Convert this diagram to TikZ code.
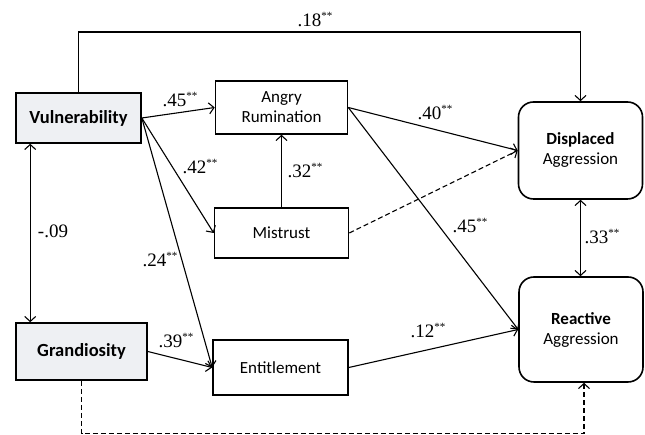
\documentclass[tikz,border=0pt]{standalone}
\usepackage{fontspec}
\setmainfont{Liberation Serif}
\newfontfamily\boxfont{Carlito}
\usepackage{tikz}
\usetikzlibrary{arrows.meta}
\definecolor{predfill}{RGB}{238,240,243}

\tikzset{
  barb/.tip={Straight Barb[length=5pt,width=11pt]},
  var/.style={draw,line width=1.6pt,font=\boxfont\fontsize{17}{20}\selectfont,align=center,inner sep=2pt},
  pred/.style={var,fill=predfill,font=\boxfont\bfseries\fontsize{18.5}{20}\selectfont},
  outc/.style={var,rounded corners=15pt,minimum width=124pt},
  coef/.style={font=\fontsize{19}{20}\selectfont,inner sep=0pt},
  path/.style={line width=1.1pt,-barb},
  dpath/.style={line width=1.1pt,barb-barb},
  ns/.style={dash pattern=on 5pt off 3pt},
}
\newcommand{\sig}{\raisebox{7pt}{\fontsize{11}{11}\selectfont**}}

\begin{document}
\begin{tikzpicture}[x=1pt,y=1pt]
  \useasboundingbox (0,0) rectangle (645,435);
  % predictors
  \node[pred,minimum width=125pt,minimum height=50pt] (vul) at (78.5,317) {Vulnerability};
  \node[pred,minimum width=131pt,minimum height=57pt] (gra) at (81.5,83.5) {Grandiosity};
  % mediators
  \node[var,minimum width=132pt,minimum height=53pt] (ang) at (281.5,327.5) {Angry\\Rumination};
  \node[var,minimum width=134pt,minimum height=50pt] (mis) at (281.5,202) {Mistrust};
  \node[var,minimum width=135pt,minimum height=55pt] (ent) at (280.5,67.5) {Entitlement};
  % outcomes
  \node[outc,minimum height=97pt] (dis) at (580.5,284.5) {\textbf{Displaced}\\Aggression};
  \node[outc,minimum height=105pt] (rea) at (581,105.5) {\textbf{Reactive}\\Aggression};

  \coordinate (top) at (0,403);
  \coordinate (bot) at (0,1.5);

  % paths
  \draw[path] (vul.north) -- (vul.north |- top) -| (dis.north);
  \draw[path] (vul.east) -- (ang.west);
  \draw[path] (vul.east) -- (mis.west);
  \draw[path] (vul.east) -- (ent.west);
  \draw[path] (mis.north) -- (ang.south);
  \draw[path] (gra.east) -- (ent.west);
  \draw[path] (ang.east) -- (dis.west);
  \draw[path,ns] (mis.east) -- (dis.west);
  \draw[path] (ang.east) -- (rea.west);
  \draw[path] (ent.east) -- (rea.west);
  \draw[dpath] (dis.south) -- (dis.south |- rea.north);
  \draw[dpath] ([xshift=15pt]vul.south west) -- ([xshift=15pt]vul.south west |- gra.north);
  \draw[path,ns] (gra.south) -- (gra.south |- bot) -| ([xshift=3pt]rea.south);

  % coefficients
  \node[coef] (c18) at (315,415) {.18\sig};
  \node[coef] (c45a) at (180,335) {.45\sig};
  \node[coef] (c42) at (200,268) {.42\sig};
  \node[coef] (c32) at (305,264) {.32\sig};
  \node[coef] (c40) at (435,322) {.40\sig};
  \node[coef] (c45b) at (470,209) {.45\sig};
  \node[coef] (c33) at (602,198) {.33\sig};
  \node[coef] (c12) at (428,104) {.12\sig};
  \node[coef] (c09) at (53,204) {-.09};
  \node[coef] (c24) at (160,175) {.24\sig};
  \node[coef] (c39) at (176,94) {.39\sig};
\end{tikzpicture}
\end{document}
